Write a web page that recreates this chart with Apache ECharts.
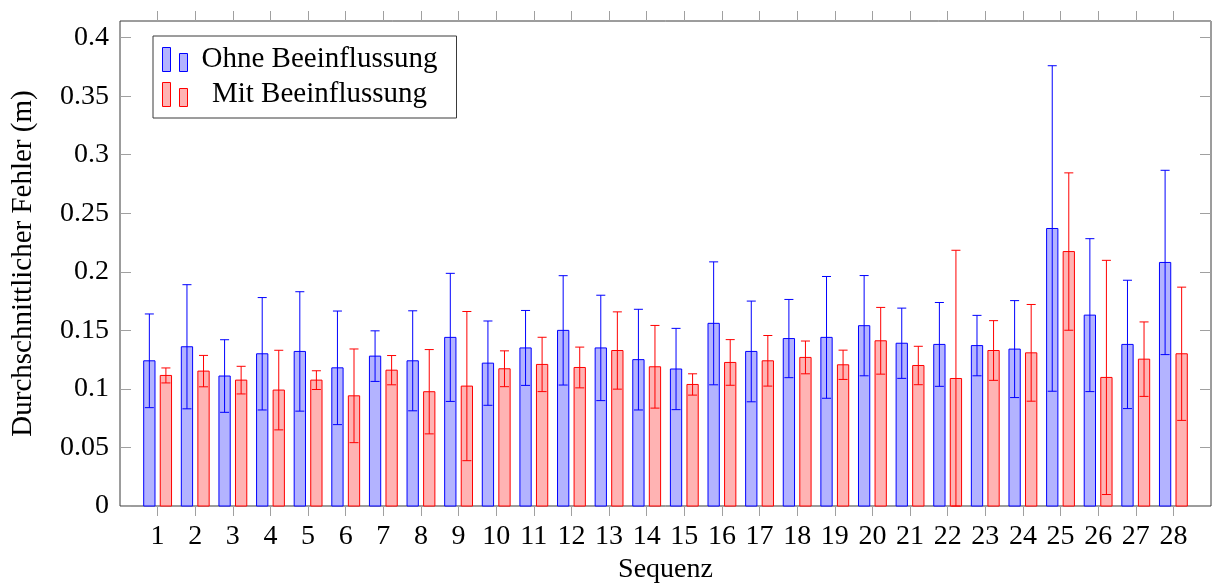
<!DOCTYPE html>
<html>
<head>
<meta charset="utf-8">
<script src="https://cdn.jsdelivr.net/npm/echarts@6/dist/echarts.min.js"></script>
<style>
html,body{margin:0;padding:0;background:#fff;}
#chart{width:1212px;height:583px;}
</style>
</head>
<body>
<div id="chart"></div>
<script>
const categories = ['1','2','3','4','5','6','7','8','9','10','11','12','13','14','15','16','17','18','19','20','21','22','23','24','25','26','27','28'];
const ohneMean = [0.124,0.136,0.111,0.130,0.132,0.118,0.128,0.124,0.144,0.122,0.135,0.150,0.135,0.125,0.117,0.156,0.132,0.143,0.144,0.154,0.139,0.138,0.137,0.134,0.237,0.163,0.138,0.208];
const ohneErr  = [0.040,0.053,0.031,0.048,0.051,0.0485,0.0216,0.0427,0.0547,0.036,0.032,0.0467,0.045,0.043,0.0347,0.0525,0.043,0.0334,0.052,0.0428,0.030,0.0358,0.0258,0.0414,0.139,0.0653,0.0548,0.0787];
const mitMean  = [0.1115,0.1152,0.1075,0.099,0.1075,0.0941,0.116,0.0976,0.1024,0.1172,0.1209,0.1183,0.1328,0.1189,0.1038,0.1226,0.124,0.1269,0.1206,0.1411,0.120,0.1089,0.1328,0.1308,0.2173,0.1098,0.1254,0.130];
const mitErr   = [0.0064,0.0134,0.0118,0.034,0.008,0.040,0.0125,0.036,0.0637,0.0153,0.0232,0.0174,0.033,0.0353,0.0091,0.0195,0.0216,0.014,0.0125,0.0285,0.0164,0.1095,0.0255,0.0413,0.0672,0.1,0.0318,0.0569];
const seriesNames = ['Ohne Beeinflussung','Mit Beeinflussung'];
const yTicks = [0,0.05,0.1,0.15,0.2,0.25,0.3,0.35,0.4];

const FONT = '"Liberation Serif", "DejaVu Serif", serif';
const axisData = [''].concat(categories, ['']);
const blueFill = 'rgb(179,179,255)', blueLine = '#0000ff';
const redFill = 'rgb(255,179,179)', redLine = '#ff0000';

function toData(means, errs){
  return means.map((v,i)=>[i+1, v, errs[i]]);
}
function makeRender(offsetFrac, widthFrac, fill, stroke){
  return function(params, api){
    const x = api.value(0), v = api.value(1), e = api.value(2);
    const unit = api.size([1,0])[0];
    const base = api.coord([x, 0]);
    const top = api.coord([x, v]);
    const cx = base[0] + offsetFrac*unit;
    const w = widthFrac*unit;
    const hi = api.coord([x, v+e]);
    const lo = api.coord([x, Math.max(0, v-e)]);
    const cap = 0.24*unit/2;
    return {type:'group', children:[
      {type:'rect', shape:{x:cx-w/2, y:top[1], width:w, height:base[1]-top[1]}, style:{fill:fill, stroke:stroke, lineWidth:1}},
      {type:'line', shape:{x1:cx,y1:hi[1],x2:cx,y2:lo[1]}, style:{stroke:stroke, lineWidth:1}},
      {type:'line', shape:{x1:cx-cap,y1:hi[1],x2:cx+cap,y2:hi[1]}, style:{stroke:stroke, lineWidth:1}},
      {type:'line', shape:{x1:cx-cap,y1:lo[1],x2:cx+cap,y2:lo[1]}, style:{stroke:stroke, lineWidth:1}}
    ]};
  };
}
const yMax = 0.4142;
const yFmt = v => yTicks.some(t=>Math.abs(t-v)<1e-9) ? String(+v.toFixed(2)) : '';

const chart = echarts.init(document.getElementById('chart'), null, {renderer:'canvas'});
chart.setOption({
  animation:false,
  backgroundColor:'#fff',
  textStyle:{fontFamily:FONT},
  grid:{left:120, right:1, top:21, bottom:77, containLabel:false, outerBoundsMode:'none', show:true, borderColor:'#3a3a3a', borderWidth:1, backgroundColor:'transparent'},
  legend:{
    orient:'vertical', left:153, top:36,
    selectedMode:false,
    backgroundColor:'#fff', borderColor:'#3a3a3a', borderWidth:1,
    padding:[9,10,9,9], itemGap:6,
    itemWidth:25, itemHeight:24,
    icon:'path://M0,0h8v24h-8z M17,6h8v18h-8z',
    data:[
      {name:seriesNames[0], itemStyle:{color:blueFill, borderColor:blueLine, borderWidth:1}},
      {name:seriesNames[1], itemStyle:{color:redFill, borderColor:redLine, borderWidth:1}}
    ],
    formatter: n => '{a|' + n + '}',
    textStyle:{fontFamily:FONT, fontSize:29, color:'#000', rich:{a:{width:254, align:'center', fontFamily:FONT, fontSize:29, color:'#000', lineHeight:30}}}
  },
  xAxis:[{
    type:'category', data:axisData, boundaryGap:false, position:'bottom',
    name:'Sequenz', nameLocation:'middle', nameGap:47,
    nameTextStyle:{fontFamily:FONT, fontSize:28, color:'#000'},
    axisLine:{show:false, onZero:false},
    axisTick:{show:true, inside:false, length:10, lineStyle:{color:'#a0a0a0'}, interval:(i)=>i>0 && i<axisData.length-1},
    axisLabel:{interval:0, margin:17, fontFamily:FONT, fontSize:28, color:'#000'},
    splitLine:{show:false}
  },{
    type:'category', data:axisData, boundaryGap:false, position:'top',
    axisLine:{show:false, onZero:false},
    axisTick:{show:true, inside:false, length:10, lineStyle:{color:'#a0a0a0'}, interval:(i)=>i>0 && i<axisData.length-1},
    axisLabel:{show:false}, splitLine:{show:false}
  }],
  yAxis:[{
    type:'value', min:0, max:yMax, interval:0.05, position:'left',
    name:'Durchschnittlicher Fehler (m)', nameLocation:'middle', nameGap:82, nameRotate:90,
    nameTextStyle:{fontFamily:FONT, fontSize:29, color:'#000'},
    axisLine:{show:false, onZero:false},
    axisTick:{show:true, inside:true, length:11, lineStyle:{color:'#a0a0a0'}},
    axisLabel:{margin:11, fontFamily:FONT, fontSize:28, color:'#000', formatter:yFmt, showMaxLabel:false},
    splitLine:{show:false}
  },{
    type:'value', min:0, max:yMax, interval:0.05, position:'right',
    axisLine:{show:false, onZero:false},
    axisTick:{show:true, inside:true, length:11, lineStyle:{color:'#a0a0a0'}},
    axisLabel:{show:false}, splitLine:{show:false}
  }],
  series:[{
    name:seriesNames[0], type:'custom', xAxisIndex:0, yAxisIndex:0,
    itemStyle:{color:blueFill, borderColor:blueLine},
    renderItem:makeRender(-0.22, 0.30, blueFill, blueLine),
    encode:{x:0, y:1},
    data:toData(ohneMean, ohneErr), z:3
  },{
    name:seriesNames[1], type:'custom', xAxisIndex:0, yAxisIndex:0,
    itemStyle:{color:redFill, borderColor:redLine},
    renderItem:makeRender(0.22, 0.30, redFill, redLine),
    encode:{x:0, y:1},
    data:toData(mitMean, mitErr), z:3
  }]
});
</script>
</body>
</html>
